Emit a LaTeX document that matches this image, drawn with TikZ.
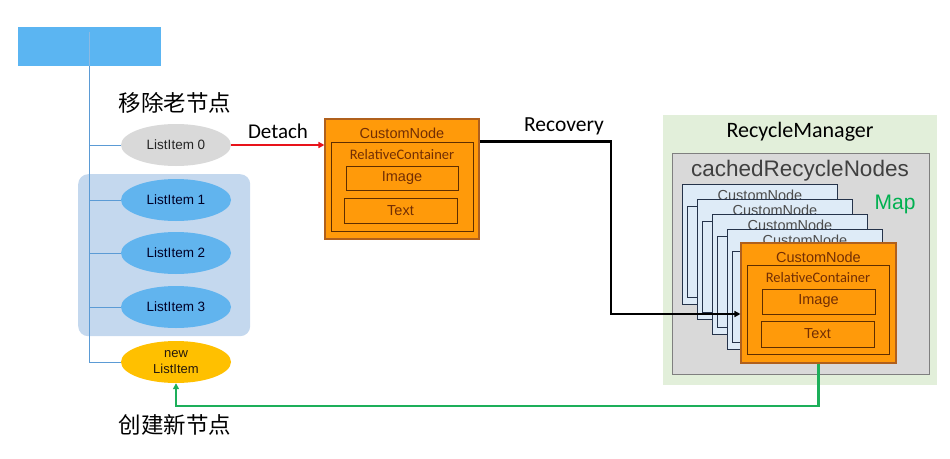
\documentclass[tikz,border=0pt]{standalone}
\usepackage{fontspec}
\setmainfont{Liberation Sans}
\newfontfamily\calfont{Carlito}
\newfontfamily\cjkfont{Noto Sans CJK SC}
\usetikzlibrary{shapes.geometric,arrows.meta,calc}
\definecolor{topblue}{HTML}{5BB5F2}
\definecolor{treeline}{HTML}{5B9BD5}
\definecolor{grayell}{HTML}{D9D9D9}
\definecolor{liblue}{HTML}{61B4EE}
\definecolor{grpbg}{HTML}{C4D8EE}
\definecolor{yel}{HTML}{FFC000}
\definecolor{orng}{HTML}{FF9A0A}
\definecolor{orborder}{HTML}{B0601C}
\definecolor{inborder}{HTML}{5E2E00}
\definecolor{ortext}{HTML}{722E04}
\definecolor{rmgreen}{HTML}{E2EFDA}
\definecolor{cachegray}{HTML}{D9D9D9}
\definecolor{cacheborder}{HTML}{7F7F7F}
\definecolor{cardfill}{HTML}{DEEBF7}
\definecolor{cardborder}{HTML}{25334A}
\definecolor{mapgreen}{HTML}{00B050}
\definecolor{detred}{HTML}{E8131A}
\definecolor{arrgreen}{HTML}{1DAF5A}
\tikzset{
  li/.style={ellipse, minimum width=110pt, minimum height=42pt, inner sep=0pt, font=\fontsize{13.5}{15}\selectfont, align=center},
  tree/.style={treeline, line width=1pt},
  obox/.style={rectangle, draw=orborder, line width=1.1pt, fill=orng, minimum width=154pt, minimum height=120pt, inner sep=0pt},
  ibox/.style={rectangle, draw=inborder, line width=1pt, minimum width=142pt, minimum height=89pt, inner sep=0pt},
  sbox/.style={rectangle, draw=inborder, line width=1pt, minimum width=113pt, minimum height=25pt, inner sep=0pt, text=ortext, font=\fontsize{14.5}{16}\selectfont},
  otitle/.style={text=ortext, font=\fontsize{14.5}{16}\selectfont, inner sep=0pt},
  rctitle/.style={text=ortext, font=\calfont\fontsize{14.5}{16}\selectfont, inner sep=0pt},
  card/.style={rectangle, draw=cardborder, line width=1pt, fill=cardfill, minimum width=155pt, minimum height=120pt, inner sep=0pt, anchor=north west},
  cardin/.style={draw=cardborder, line width=1pt},
  cardtitle/.style={text=black!70, font=\fontsize{14.5}{16}\selectfont, inner sep=0pt},
  lbl/.style={inner sep=0pt},
  conn/.style={line width=2.2pt, -{Triangle[length=6pt,width=6pt]}},
}
\begin{document}
\begin{tikzpicture}[x=1pt,y=-1pt]
\useasboundingbox (0,0) rectangle (950,458);
% top bar
\node[rectangle, fill=topblue, minimum width=143pt, minimum height=39pt, inner sep=0pt, anchor=north west] (top) at (18,27) {};
% group background
\node[rectangle, rounded corners=10pt, fill=grpbg, minimum width=172pt, minimum height=162pt, inner sep=0pt, anchor=north west] (grp) at (78,174) {};
% list items
\node[li, fill=grayell, text=black!85] (li0) at (176,145) {ListItem 0};
\node[li, fill=liblue, text=black!85!blue] (li1) at (176,200) {ListItem 1};
\node[li, fill=liblue, text=black!85!blue] (li2) at (176,253) {ListItem 2};
\node[li, fill=liblue, text=black!85!blue] (li3) at (176,307) {ListItem 3};
\node[li, fill=yel, text=black!80!brown, font=\fontsize{13}{16}\selectfont] (nli) at (176,362) {new\\ListItem};
% tree lines
\coordinate (tt) at (89,32);
\draw[treeline!70!white, line width=1pt] (tt) -- (top.south -| tt);
\foreach \n in {li0,li1,li2,li3,nli} {\draw[tree] (top.south -| tt) |- (\n.west);}
% chinese labels
\node[lbl, font=\cjkfont\fontsize{22.5}{25}\selectfont] (rm) at (175,103) {移除老节点};
\node[lbl, font=\cjkfont\fontsize{22.5}{25}\selectfont] (cj) at (175,425) {创建新节点};
% left custom node
\node[obox] (cn) at (402,179) {};
\node[ibox] (cnin) at (402,186.5) {};
\node[otitle] (cnt) at (402,133) {CustomNode};
\node[rctitle] (cnr) at (402,155) {RelativeContainer};
\node[sbox, minimum width=112pt, minimum height=24pt] (cni) at (402,178) {Image};
\node[sbox] (cnx) at (400.5,210.5) {Text};
% detach
\draw[conn, detred] (li0.east) -- (cn.west |- li0.east);
\node[lbl, font=\calfont\fontsize{21}{23}\selectfont] (det) at (278,131) {Detach};
% recycle manager
\node[rectangle, fill=rmgreen, minimum width=274pt, minimum height=270pt, inner sep=0pt, anchor=north west] (rmg) at (663,115) {};
\node[lbl, font=\calfont\fontsize{22}{24}\selectfont] (rmt) at (800,132) {RecycleManager};
\node[rectangle, fill=cachegray, draw=cacheborder, line width=1pt, minimum width=257pt, minimum height=221pt, inner sep=0pt, anchor=north west] (cache) at (672,153) {};
\node[lbl, text=black!75, font=\fontsize{22.5}{24}\selectfont] (cacht) at (800,171) {cachedRecycleNodes};
\node[lbl, text=mapgreen, font=\fontsize{21}{24}\selectfont] (map) at (895,204) {Map};
% stacked cards
\foreach \i in {0,1,2,3} {
  \node[card] (c\i) at (682+15*\i,184+15*\i) {};
  \draw[cardin] ($(c\i.north west)+(5,22)$) rectangle ($(c\i.south east)+(-5,-8)$);
  \node[cardtitle] (ct\i) at ($(c\i.north)+(0,11)$) {CustomNode};
}
% front card
\node[obox, minimum width=155pt] (fc) at (818.5,303) {};
\node[ibox] (fcin) at (818,310) {};
\node[otitle] (fct) at (818.5,257) {CustomNode};
\node[rctitle] (fcr) at (818,278) {RelativeContainer};
\node[sbox] (fci) at (818.5,301.5) {Image};
\node[sbox, minimum height=26pt] (fcx) at (817.5,334) {Text};
% recovery
\coordinate (rcv) at (611,314);
\draw[conn, line width=2.6pt, black] (cn.east |- cnin.north) -| (rcv) -- (fc.west |- rcv);
\node[lbl, font=\calfont\fontsize{21.5}{23}\selectfont] (rec) at (564,126) {Recovery};
% create new
\coordinate (g) at (176,406);
\draw[conn, arrgreen] (fc.south) |- (g) -- (nli.south);
\end{tikzpicture}
\end{document}
